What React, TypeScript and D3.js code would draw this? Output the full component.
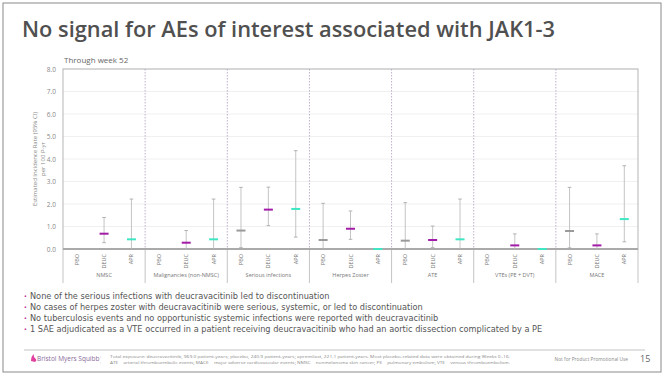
import React from "react";
import * as d3 from "d3";

const groups = ["NMSC", "Malignancies (non-NMSC)", "Serious infections", "Herpes Zoster", "ATE", "VTEs (PE + DVT)", "MACE"];
const arms = ["PBO", "DEUC", "APR"];
const yTicks = [0, 1, 2, 3, 4, 5, 6, 7, 8];

const pboRate = [null, null, 0.82, 0.4, 0.37, null, 0.8];
const pboLow = [null, null, 0.06, 0.0, 0.0, null, 0.05];
const pboHigh = [null, null, 2.74, 2.03, 2.06, null, 2.74];
const deucRate = [0.68, 0.28, 1.75, 0.9, 0.4, 0.16, 0.16];
const deucLow = [0.28, 0.0, 1.04, 0.43, 0.06, 0.0, 0.0];
const deucHigh = [1.4, 0.82, 2.75, 1.69, 1.02, 0.67, 0.67];
const aprRate = [0.43, 0.43, 1.78, 0.0, 0.43, 0.0, 1.33];
const aprLow = [0.0, 0.0, 0.53, 0.0, 0.0, 0.0, 0.32];
const aprHigh = [2.22, 2.22, 4.37, 0.0, 2.22, 0.0, 3.7];

const bullets = [
  "None of the serious infections with deucravacitinib led to discontinuation",
  "No cases of herpes zoster with deucravacitinib were serious, systemic, or led to discontinuation",
  "No tuberculosis events and no opportunistic systemic infections were reported with deucravacitinib",
  "1 SAE adjudicated as a VTE occurred in a patient receiving deucravacitinib who had an aortic dissection complicated by a PE",
];
const footnotes = [
  "Total exposure: deucravacitinib, 969.0 patient-years; placebo, 240.9 patient-years; apremilast, 221.1 patient-years. Most placebo-related data were obtained during Weeks 0–16.",
  "ATE = arterial thromboembolic events; MACE = major adverse cardiovascular events; NMSC = nonmelanoma skin cancer; PE = pulmonary embolism; VTE = venous thromboembolism.",
];

const armColors = ["#9a9a9a", "#a21ca8", "#3ee6c4"];
const series = [
  { rate: pboRate, low: pboLow, high: pboHigh },
  { rate: deucRate, low: deucLow, high: deucHigh },
  { rate: aprRate, low: aprLow, high: aprHigh },
];

const W = 667, H = 378;
const left = 63, right = 638, top = 69, bottom = 249;
const FONT = "'Open Sans', 'Noto Sans', sans-serif";

export default function App() {
  const y = d3.scaleLinear().domain([0, 8]).range([bottom, top]);
  const gx = d3.scaleBand().domain(groups).range([left, right]).padding(0);
  const ax = d3.scaleBand().domain(arms).range([0, gx.bandwidth()]).padding(0);
  const gw = gx.bandwidth();

  return (
    <svg width={W} height={H} style={{ position: "fixed", left: 0, top: 0, background: "#fff" }} fontFamily={FONT}>
      <rect x={3} y={3} width={658} height={369} fill="#fff" stroke="#8a8a8a" strokeWidth={1} />
      <text x={22} y={37} fontSize={21} fontWeight={600} fill="#505050" textLength={533} lengthAdjust="spacingAndGlyphs">
        No signal for AEs of interest associated with JAK1-3
      </text>
      <text x={64} y={63} fontSize={8} fill="#666">Through week 52</text>

      {yTicks.map((t) => (
        <g key={t}>
          <line x1={left} x2={right} y1={y(t)} y2={y(t)} stroke="#ececec" strokeWidth={0.8} />
          <text x={56} y={y(t) + 2.5} fontSize={6.5} fill="#888" textAnchor="end">{t.toFixed(1)}</text>
        </g>
      ))}
      <rect x={left} y={top} width={right - left} height={bottom - top} fill="none" stroke="#b5b5b5" strokeWidth={1} />

      <g transform={`translate(37, 159) rotate(-90)`}>
        <text x={0} y={0} fontSize={6} fill="#888" textAnchor="middle">Estimated Incidence Rate (95% CI)</text>
        <text x={0} y={8} fontSize={6} fill="#888" textAnchor="middle">per 100 P-yr</text>
      </g>

      {groups.slice(1).map((g) => (
        <line key={g} x1={gx(g)} x2={gx(g)} y1={top} y2={bottom} stroke="#b09cc0" strokeWidth={0.8} strokeDasharray="1.5,1.5" />
      ))}
      {groups.map((g) => (
        <line key={"s" + g} x1={gx(g)} x2={gx(g)} y1={bottom} y2={283} stroke="#b5b5b5" strokeWidth={0.8} />
      ))}
      <line x1={right} x2={right} y1={bottom} y2={283} stroke="#b5b5b5" strokeWidth={0.8} />
      <line x1={left} x2={right} y1={bottom} y2={bottom} stroke="#aaa" strokeWidth={2} />

      {groups.map((g) => (
        <g key={"l" + g}>
          {arms.map((a) => {
            const cx = (gx(g) as number) + (ax(a) as number) + ax.bandwidth() / 2;
            return (
              <text key={a} transform={`translate(${cx + 2}, 254) rotate(-90)`} fontSize={5.5} fill="#777" textAnchor="end">{a}</text>
            );
          })}
          <text x={(gx(g) as number) + gw / 2} y={277} fontSize={5.5} fill="#777" textAnchor="middle">{g}</text>
        </g>
      ))}

      {groups.map((g, gi) =>
        arms.map((a, ai) => {
          const s = series[ai];
          const v = s.rate[gi];
          if (v === null) return null;
          const cx = (gx(g) as number) + (ax(a) as number) + ax.bandwidth() / 2;
          const lo = s.low[gi] as number, hi = s.high[gi] as number;
          return (
            <g key={g + a}>
              {hi > lo && (
                <>
                  <line x1={cx} x2={cx} y1={y(lo)} y2={y(hi)} stroke="#bdbdbd" strokeWidth={0.9} />
                  <line x1={cx - 1.8} x2={cx + 1.8} y1={y(hi)} y2={y(hi)} stroke="#aaa" strokeWidth={0.9} />
                  <line x1={cx - 1.8} x2={cx + 1.8} y1={y(lo)} y2={y(lo)} stroke="#aaa" strokeWidth={0.9} />
                </>
              )}
              <line x1={cx - 4.5} x2={cx + 4.5} y1={y(v)} y2={y(v)} stroke={armColors[ai]} strokeWidth={2} />
            </g>
          );
        })
      )}

      {bullets.map((b, i) => (
        <g key={i}>
          <text x={24} y={299 + i * 11} fontSize={7.5} fill="#c0309a">•</text>
          <text x={30} y={299 + i * 11} fontSize={8.2} fill="#555" fontFamily="'DejaVu Sans', sans-serif">{b}</text>
        </g>
      ))}

      <line x1={24} x2={645} y1={350} y2={350} stroke="#aaa" strokeWidth={0.7} />
      <path d="M31,361 q0,-5 3,-7 q-1,3 2,5 q1,2 -1,3 z" fill="#e040a0" />
      <text x={37} y={361} fontSize={6.5} fill="#8a6a9a">Bristol Myers Squibb</text>
      <text x={100} y={358} fontSize={4} fill="#999">:</text>
      <text x={100} y={364} fontSize={4} fill="#999">:</text>
      {footnotes.map((f, i) => (
        <text key={i} x={110} y={358 + i * 6} fontSize={3.6} fill="#888" textLength={400} lengthAdjust="spacingAndGlyphs">{f}</text>
      ))}
      <text x={628} y={361} fontSize={4.8} fill="#888" textAnchor="end">Not for Product Promotional Use</text>
      <text x={640} y={362} fontSize={9} fill="#666">15</text>
    </svg>
  );
}
